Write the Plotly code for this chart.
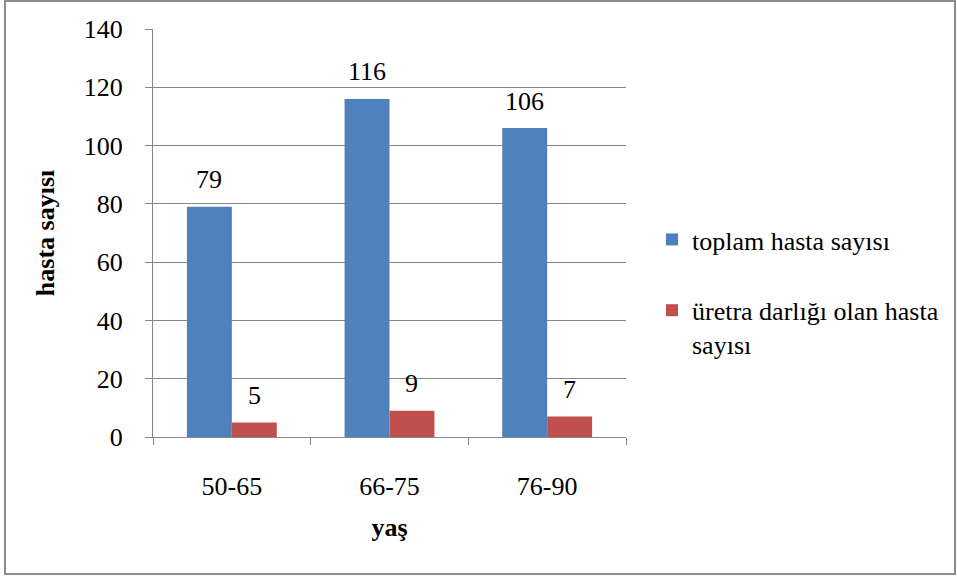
import plotly.graph_objects as go

# Age groups and patient counts
age_groups = ["50-65", "66-75", "76-90"]
total_patients = [79, 116, 106]
stricture_patients = [5, 9, 7]

series_names = ["toplam hasta sayısı", "üretra darlığı olan hasta<br>sayısı"]
series_colors = ["#4F81BD", "#C0504D"]

FONT = "'Times New Roman', 'Liberation Serif', 'DejaVu Serif', serif"
GRID = "#878787"

W, H = 957, 576
L, R, T, B = 153, 331, 29, 139
BARGAP = 0.43

fig = go.Figure()
for name, vals, color, grp in zip(series_names, [total_patients, stricture_patients], series_colors, ["a", "b"]):
    fig.add_trace(go.Bar(
        x=age_groups, y=vals, name=name, marker_color=color,
        marker_line_width=0, legendgroup=grp,
    ))

# Value labels above each bar
bar_w = (1 - BARGAP) / 2
for s, vals in enumerate([total_patients, stricture_patients]):
    off = (s - 0.5) * bar_w
    for i, v in enumerate(vals):
        fig.add_annotation(
            x=i + off, y=v, xref="x", yref="y", text=str(v),
            showarrow=False, yanchor="middle", yshift=27,
            font=dict(family=FONT, size=26, color="black"),
        )

pw = W - L - R
ph = H - T - B
# Outer chart frame
fig.add_shape(
    type="rect", xref="paper", yref="paper",
    x0=(5 - L) / pw, x1=(955 - L) / pw,
    y0=(H - B - 574) / ph, y1=(H - B - 1) / ph,
    line=dict(color="#8C8C8C", width=2), fillcolor="rgba(0,0,0,0)", layer="below",
)

fig.update_layout(
    width=W, height=H,
    margin=dict(l=L, r=R, t=T, b=B, autoexpand=False),
    paper_bgcolor="white", plot_bgcolor="white",
    barmode="group", bargap=BARGAP, bargroupgap=0,
    font=dict(family=FONT, size=26, color="black"),
    legend=dict(
        x=(652 - L) / pw, y=(H - B - 216) / ph, xanchor="left", yanchor="top",
        traceorder="grouped", tracegroupgap=34, valign="top",
        font=dict(family=FONT, size=26, color="black"),
        bgcolor="rgba(0,0,0,0)",
    ),
    xaxis=dict(
        type="category", tickson="boundaries", ticks="outside", ticklen=7,
        tickcolor=GRID, showline=True, linecolor=GRID, linewidth=1,
        showgrid=False, ticklabelstandoff=26,
        tickfont=dict(family=FONT, size=26, color="black"),
        title=dict(text="<b>yaş</b>", standoff=17, font=dict(family=FONT, size=26)),
        automargin=False,
    ),
    yaxis=dict(
        range=[0, 140], dtick=20, ticks="outside", ticklen=7, tickcolor=GRID,
        showline=True, linecolor=GRID, linewidth=1,
        showgrid=True, gridcolor=GRID, gridwidth=1, zeroline=False,
        ticklabelstandoff=17,
        tickfont=dict(family=FONT, size=26, color="black"),
        title=dict(text="<b>hasta sayısı</b>", standoff=21, font=dict(family=FONT, size=26)),
        automargin=False,
    ),
)

fig.write_html("out.html")
